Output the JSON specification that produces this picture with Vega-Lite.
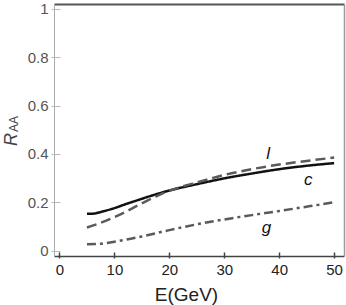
{
  "$schema": "https://vega.github.io/schema/vega-lite/v6.json",
  "width": 290,
  "height": 252,
  "autosize": {"type": "none"},
  "padding": {"left": 54, "top": 4, "right": 2, "bottom": 49},
  "background": "white",
  "config": {
    "view": {"stroke": null},
    "font": "Liberation Sans"
  },
  "datasets": {
    "curves": [
      {"E": 5, "R": 0.153, "s": "c"}, {"E": 6, "R": 0.153, "s": "c"}, {"E": 7, "R": 0.157, "s": "c"},
      {"E": 8, "R": 0.163, "s": "c"}, {"E": 10, "R": 0.176, "s": "c"}, {"E": 12, "R": 0.192, "s": "c"},
      {"E": 14, "R": 0.207, "s": "c"}, {"E": 16, "R": 0.222, "s": "c"}, {"E": 18, "R": 0.236, "s": "c"},
      {"E": 20, "R": 0.249, "s": "c"}, {"E": 22, "R": 0.260, "s": "c"}, {"E": 25, "R": 0.275, "s": "c"},
      {"E": 30, "R": 0.299, "s": "c"}, {"E": 35, "R": 0.319, "s": "c"}, {"E": 40, "R": 0.337, "s": "c"},
      {"E": 45, "R": 0.351, "s": "c"}, {"E": 50, "R": 0.362, "s": "c"},
      {"E": 5, "R": 0.096, "s": "l"}, {"E": 7, "R": 0.111, "s": "l"}, {"E": 10, "R": 0.139, "s": "l"},
      {"E": 12, "R": 0.160, "s": "l"}, {"E": 14, "R": 0.184, "s": "l"}, {"E": 16, "R": 0.207, "s": "l"},
      {"E": 18, "R": 0.229, "s": "l"}, {"E": 20, "R": 0.248, "s": "l"}, {"E": 22, "R": 0.263, "s": "l"},
      {"E": 25, "R": 0.282, "s": "l"}, {"E": 30, "R": 0.313, "s": "l"}, {"E": 35, "R": 0.337, "s": "l"},
      {"E": 40, "R": 0.356, "s": "l"}, {"E": 45, "R": 0.371, "s": "l"}, {"E": 50, "R": 0.385, "s": "l"},
      {"E": 5, "R": 0.027, "s": "g"}, {"E": 7, "R": 0.028, "s": "g"}, {"E": 10, "R": 0.037, "s": "g"},
      {"E": 12, "R": 0.045, "s": "g"}, {"E": 15, "R": 0.059, "s": "g"}, {"E": 20, "R": 0.085, "s": "g"},
      {"E": 25, "R": 0.109, "s": "g"}, {"E": 30, "R": 0.129, "s": "g"}, {"E": 35, "R": 0.147, "s": "g"},
      {"E": 40, "R": 0.164, "s": "g"}, {"E": 45, "R": 0.182, "s": "g"}, {"E": 50, "R": 0.200, "s": "g"}
    ],
    "labels": [
      {"E": 38.0, "R": 0.40, "t": "l"},
      {"E": 45.3, "R": 0.292, "t": "c"},
      {"E": 37.7, "R": 0.092, "t": "g"}
    ]
  },
  "resolve": {"axis": {"x": "independent", "y": "independent"}},
  "layer": [
    {
      "data": {"name": "curves"},
      "mark": {"type": "line", "strokeWidth": 2.5, "interpolate": "monotone"},
      "encoding": {
        "x": {
          "field": "E", "type": "quantitative",
          "scale": {"domain": [-1, 51.8], "nice": false, "zero": false},
          "axis": {
            "orient": "bottom", "values": [0, 10, 20, 30, 40, 50], "grid": false,
            "domainColor": "#444", "domainWidth": 1.5, "tickColor": "#444", "tickWidth": 1.5, "tickSize": 2,
            "labelFontSize": 15, "labelColor": "#222", "labelPadding": 4,
            "title": "E(GeV)", "titleFontSize": 19, "titleFontWeight": "normal", "titleColor": "#222",
            "titleX": 132, "titleY": 44, "titleBaseline": "alphabetic", "titleAlign": "center"
          }
        },
        "y": {
          "field": "R", "type": "quantitative",
          "scale": {"domain": [-0.022, 1.02], "nice": false, "zero": false},
          "axis": {
            "orient": "left", "values": [0, 0.2, 0.4, 0.6, 0.8, 1], "grid": false, "format": "~g",
            "domainColor": "#aaa", "tickColor": "#bbb", "tickSize": 3,
            "labelFontSize": 15, "labelColor": "#555", "labelPadding": 3,
            "title": "R", "titleFontSize": 18, "titleFontStyle": "italic", "titleFontWeight": "normal",
            "titleColor": "#444", "titleX": -38, "titleY": 135, "titleAngle": -90,
            "titleBaseline": "alphabetic", "titleAlign": "center"
          }
        },
        "color": {
          "field": "s", "type": "nominal",
          "scale": {"domain": ["c", "l", "g"], "range": ["#111111", "#5a5a5a", "#5a5a5a"]},
          "legend": null
        },
        "strokeDash": {
          "field": "s", "type": "nominal",
          "scale": {"domain": ["c", "l", "g"], "range": [[1, 0], [10, 5], [9, 4, 3, 4]]},
          "legend": null
        }
      }
    },
    {
      "data": {"name": "labels"},
      "mark": {"type": "text", "fontSize": 17, "fontStyle": "italic", "color": "#111", "align": "center", "baseline": "middle"},
      "encoding": {
        "x": {
          "field": "E", "type": "quantitative",
          "axis": {
            "orient": "bottom", "values": [0, 10, 20, 30, 40, 50], "grid": false,
            "domain": false, "labels": false, "title": null,
            "tickColor": "#444", "tickWidth": 1.5, "tickSize": -4
          }
        },
        "y": {
          "field": "R", "type": "quantitative",
          "axis": {
            "orient": "left", "values": [0, 0.2, 0.4, 0.6, 0.8, 1], "grid": false,
            "domain": false, "labels": false,
            "tickColor": "#bbb", "tickSize": -6,
            "title": "AA", "titleFontSize": 12, "titleFontWeight": "normal", "titleColor": "#444",
            "titleX": -37, "titleY": 119.5, "titleAngle": -90,
            "titleBaseline": "alphabetic", "titleAlign": "center"
          }
        },
        "text": {"field": "t", "type": "nominal"}
      }
    },
    {
      "data": {"name": "labels"},
      "mark": {"type": "text", "opacity": 0},
      "encoding": {
        "x": {
          "field": "E", "type": "quantitative",
          "axis": {
            "orient": "top", "grid": false, "ticks": false, "labels": false, "title": null,
            "domainColor": "#555", "domainWidth": 2
          }
        },
        "y": {
          "field": "R", "type": "quantitative",
          "axis": {
            "orient": "right", "grid": false, "ticks": false, "labels": false, "title": null,
            "domainColor": "#999", "domainWidth": 1.5
          }
        },
        "text": {"field": "t", "type": "nominal"}
      }
    }
  ]
}
